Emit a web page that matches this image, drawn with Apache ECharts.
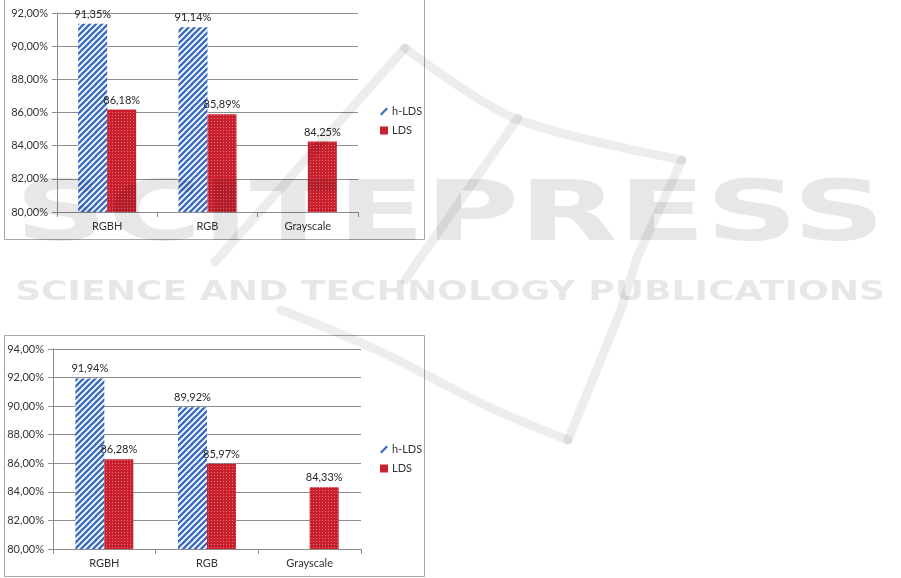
<!DOCTYPE html>
<html>
<head>
<meta charset="utf-8">
<script src="https://cdn.jsdelivr.net/npm/echarts@6/dist/echarts.min.js"></script>
<style>
html,body{margin:0;padding:0;background:#fff;}
#c{width:901px;height:578px;}
</style>
</head>
<body>
<div id="c"></div>
<script>
var categories = ['RGBH', 'RGB', 'Grayscale'];
var seriesNames = ['h-LDS', 'LDS'];
var top_hLDS = [91.35, 91.14, null];
var top_LDS = [86.18, 85.89, 84.25];
var bottom_hLDS = [91.94, 89.92, null];
var bottom_LDS = [86.28, 85.97, 84.33];
var topAxis = {min: 80, max: 92, interval: 2};
var bottomAxis = {min: 80, max: 94, interval: 2};
var watermarkBig = 'SCITEPRESS';
var watermarkSmall = 'SCIENCE AND TECHNOLOGY PUBLICATIONS';

var BLUE = '#3a6cc0', RED = '#c8202d';
var FONT = 'Lato';

function stripePattern() {
  var s = 6, c = document.createElement('canvas');
  c.width = s; c.height = s;
  var g = c.getContext('2d');
  g.fillStyle = '#fff'; g.fillRect(0, 0, s, s);
  g.strokeStyle = BLUE; g.lineWidth = 2.4;
  g.beginPath();
  g.moveTo(0, s); g.lineTo(s, 0);
  g.moveTo(-s / 2, s / 2); g.lineTo(s / 2, -s / 2);
  g.moveTo(s / 2, s * 1.5); g.lineTo(s * 1.5, s / 2);
  g.stroke();
  return {image: c, repeat: 'repeat'};
}
function dotPattern() {
  var c = document.createElement('canvas');
  c.width = 3; c.height = 3;
  var g = c.getContext('2d');
  g.fillStyle = RED; g.fillRect(0, 0, 3, 3);
  g.fillStyle = '#e0707a'; g.fillRect(1, 1, 1, 1);
  return {image: c, repeat: 'repeat'};
}
var stripes = stripePattern(), dots = dotPattern();

function pct(v) { return v.toFixed(2).replace('.', ',') + '%'; }

function measure(text, font) {
  var c = document.createElement('canvas').getContext('2d');
  c.font = font;
  return c.measureText(text).width;
}

var chart = echarts.init(document.getElementById('c'), null, {renderer: 'canvas'});

var grids = [
  {left: 57, right: 901 - 358, top: 13, bottom: 578 - 212},
  {left: 53, right: 901 - 361, top: 349, bottom: 578 - 549}
];
var axes = [topAxis, bottomAxis];

var xAxis = [0, 1].map(function (i) {
  return {
    type: 'category', gridIndex: i, data: categories,
    axisLine: {lineStyle: {color: '#8c8c8c', width: 1}},
    axisTick: {show: true, length: 5, lineStyle: {color: '#8c8c8c'}},
    axisLabel: {color: '#333', fontFamily: FONT, fontSize: 11, margin: 9}
  };
});
var yAxis = [0, 1].map(function (i) {
  return {
    type: 'value', gridIndex: i,
    min: axes[i].min, max: axes[i].max, interval: axes[i].interval,
    axisLine: {show: true, lineStyle: {color: '#8c8c8c', width: 1}},
    axisTick: {show: true, length: 5, lineStyle: {color: '#8c8c8c'}},
    splitLine: {lineStyle: {color: '#8c8c8c', width: 1}},
    axisLabel: {color: '#333', fontFamily: FONT, fontSize: 11, margin: 9,
      formatter: function (v) { return pct(v); }}
  };
});

function barSeries(name, data, idx, pattern) {
  return {
    name: name, type: 'bar', xAxisIndex: idx, yAxisIndex: idx,
    data: data, barWidth: idx === 0 ? 29 : 29, barGap: '0%',
    itemStyle: {color: pattern},
    label: {show: true, position: 'top', distance: 4, color: '#262626',
      fontFamily: FONT, fontSize: 11,
      formatter: function (p) { return p.value == null ? '' : pct(p.value); }},
    emphasis: {disabled: true},
    silent: true
  };
}

var series = [
  barSeries('h-LDS', top_hLDS, 0, stripes),
  barSeries('LDS', top_LDS, 0, dots),
  barSeries('h-LDS', bottom_hLDS, 1, stripes),
  barSeries('LDS', bottom_LDS, 1, dots)
];

function legend(top) {
  return {
    orient: 'vertical', left: 375, top: top, itemWidth: 8, itemHeight: 8,
    itemGap: 8, selectedMode: false,
    textStyle: {color: '#333', fontFamily: FONT, fontSize: 11, padding: [0, 0, 0, -1]},
    data: [
      {name: seriesNames[0], icon: 'path://M0,10 L8,2 L10,4 L2,12 Z', itemStyle: {color: BLUE}},
      {name: seriesNames[1], icon: 'rect', itemStyle: {color: RED}}
    ]
  };
}

var bigFont = '700 84px "DejaVu Sans"';
var smallFont = '700 26px "DejaVu Sans"';
var bigScale = 870 / measure(watermarkBig, bigFont);
var smallScale = 870 / measure(watermarkSmall, smallFont);
var WM = 'rgba(0,0,0,0.095)';
var WL = 'rgba(0,0,0,0.07)';

function stroke(points, smooth) {
  return {type: 'polyline', silent: true, z: 100,
    shape: {points: points, smooth: smooth || 0},
    style: {stroke: WL, lineWidth: 9, fill: null, lineCap: 'round', lineJoin: 'round'}};
}

var graphic = [
  {type: 'rect', silent: true, z: -1, shape: {x: 4.5, y: -2, width: 420, height: 241.5},
    style: {fill: null, stroke: '#a6a6a6', lineWidth: 1}},
  {type: 'rect', silent: true, z: -1, shape: {x: 4.5, y: 335.5, width: 420, height: 241},
    style: {fill: null, stroke: '#a6a6a6', lineWidth: 1}},
  {type: 'text', silent: true, z: 100, x: 15, y: 218, scaleX: bigScale,
    style: {text: watermarkBig, font: bigFont, fill: WM, align: 'left', verticalAlign: 'middle'}},
  {type: 'text', silent: true, z: 100, x: 15, y: 293, scaleX: smallScale,
    style: {text: watermarkSmall, font: smallFont, fill: WM, align: 'left', verticalAlign: 'middle'}},
  stroke([[405, 48], [514, 118], [682, 160]], 0.3),
  stroke([[682, 160], [637, 258], [621, 310], [568, 440]]),
  stroke([[568, 440], [487, 406], [379, 351], [281, 310]], 0.4),
  stroke([[405, 48], [215, 262]]),
  stroke([[518, 118], [405, 280]])
];

chart.setOption({
  animation: false,
  backgroundColor: '#fff',
  grid: grids,
  xAxis: xAxis,
  yAxis: yAxis,
  legend: [legend(101), legend(439)],
  series: series,
  graphic: graphic
});
</script>
</body>
</html>
